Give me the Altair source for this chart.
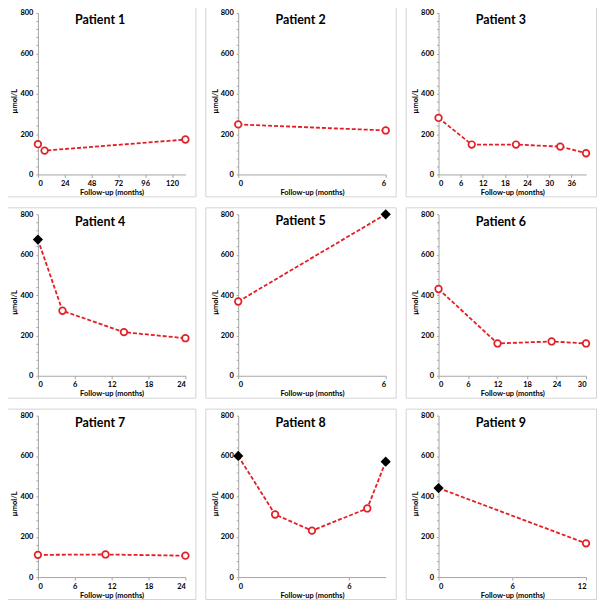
import altair as alt
import pandas as pd

patients = ["Patient 1", "Patient 2", "Patient 3", "Patient 4", "Patient 5",
            "Patient 6", "Patient 7", "Patient 8", "Patient 9"]
months = [[0, 6, 132], [0, 6], [0, 9, 21, 33, 40], [0, 4, 14, 24], [0, 6],
          [0, 12, 23, 30], [0, 11, 24], [0, 2, 4, 7, 8], [0, 12]]
values = [[150, 118, 173], [248, 218], [280, 148, 148, 138, 105], [675, 322, 216, 186],
          [368, 800], [430, 160, 170, 160], [110, 112, 106], [600, 310, 230, 340, 572],
          [441, 167]]
markers = [["o", "o", "o"], ["o", "o"], ["o", "o", "o", "o", "o"], ["d", "o", "o", "o"],
           ["o", "d"], ["o", "o", "o", "o"], ["o", "o", "o"], ["d", "o", "o", "o", "d"],
           ["d", "o"]]
x_max = [132, 6, 40, 24, 6, 30, 24, 8, 12]
x_step = [24, 6, 6, 6, 6, 6, 6, 6, 6]

rows = []
for p, ms, vs, mk in zip(patients, months, values, markers):
    for m, v, k in zip(ms, vs, mk):
        rows.append({"patient": p, "month": m, "value": v, "marker": k})
df = pd.DataFrame(rows)

RED = "#e31e24"
FONT = "Lato"
W, H = 191, 191

charts = []
for i, p in enumerate(patients):
    sub = df[df["patient"] == p]
    ticks = list(range(0, x_max[i] + 1, x_step[i]))
    x = alt.X("month:Q",
              scale=alt.Scale(domain=[0, x_max[i]], range=[33, 181], nice=False),
              axis=alt.Axis(values=ticks, title="Follow-up (months)", offset=-22,
                            titleY=18, titleBaseline="middle", tickSize=3,
                            labelPadding=2))
    y = alt.Y("value:Q",
              scale=alt.Scale(domain=[0, 800], range=[169, 7], nice=False),
              axis=alt.Axis(values=list(range(0, 801, 40)),
                            labelExpr="datum.value % 200 == 0 ? datum.label : ''",
                            title="µmol/L", offset=-33, titleX=-23, titleY=95,
                            titleBaseline="middle",
                            tickSize=2, labelPadding=3))
    base = alt.Chart(sub)
    line = base.mark_line(color=RED, strokeDash=[4, 2], strokeWidth=1.8).encode(x=x, y=y)
    pts = base.mark_point(filled=True, opacity=1, strokeWidth=1.7).encode(
        x=x, y=y,
        shape=alt.Shape("marker:N", scale=alt.Scale(domain=["o", "d"], range=["circle", "diamond"]), legend=None),
        fill=alt.Fill("marker:N", scale=alt.Scale(domain=["o", "d"], range=["white", "black"]), legend=None),
        stroke=alt.Stroke("marker:N", scale=alt.Scale(domain=["o", "d"], range=[RED, "black"]), legend=None),
        size=alt.Size("marker:N", scale=alt.Scale(domain=["o", "d"], range=[44, 62]), legend=None),
    )
    ch = alt.layer(line, pts).properties(
        width=W, height=H,
        title=alt.TitleParams(p, anchor="middle", offset=-34, baseline="bottom",
                              fontSize=12.5, fontWeight="bold", font=FONT, color="black"),
    )
    charts.append(ch)

chart = alt.concat(*charts, columns=3, spacing={"row": 11, "column": 10}, bounds="flush").properties(
    padding={"left": -4, "top": -4, "right": 0, "bottom": 0}
).configure_view(
    stroke="#d4d4d4", strokeWidth=1
).configure_axis(
    grid=False, domainColor="#a6a6a6", tickColor="#a6a6a6",
    labelFont=FONT, labelFontSize=7.5, labelFontWeight="bold", labelColor="black",
    titleFont=FONT, titleFontSize=7.5, titleFontWeight="bold", titleColor="black",
)

chart.save("out.html", embed_options={"renderer": "svg", "actions": False})
